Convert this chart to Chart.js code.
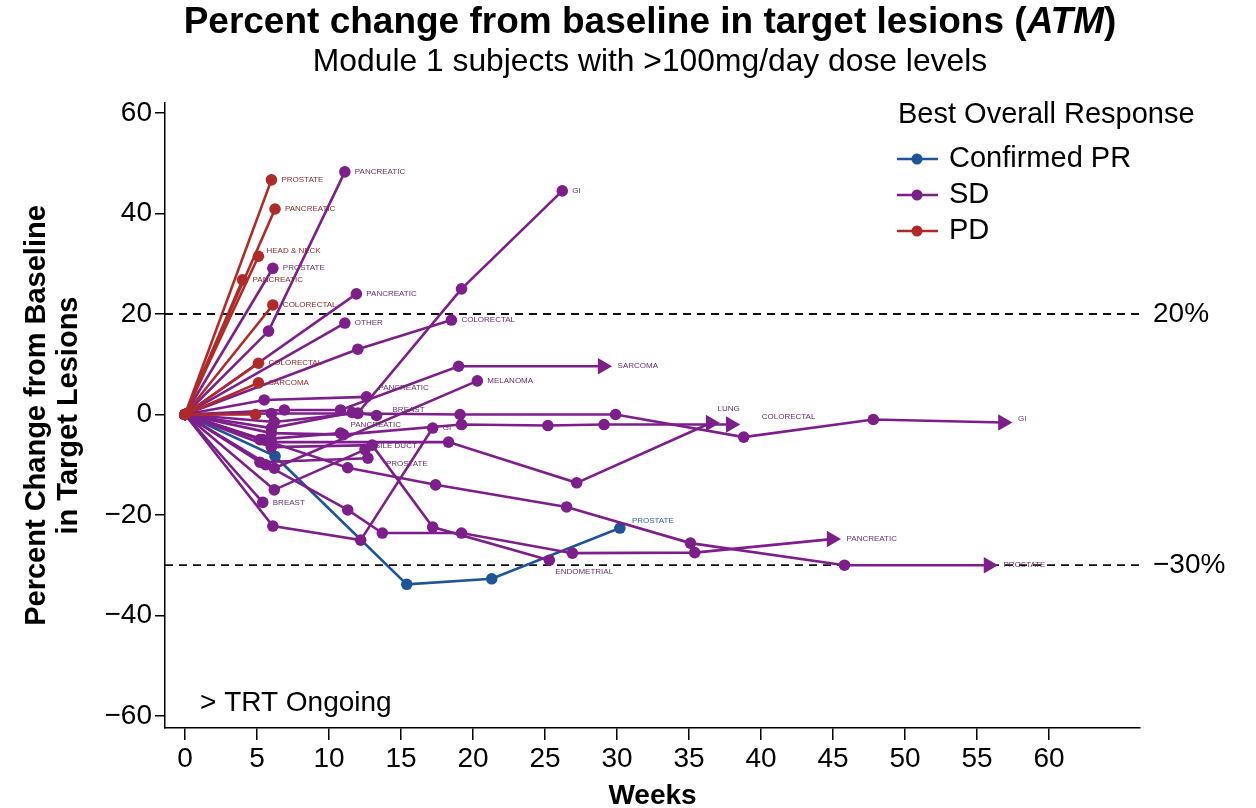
<!DOCTYPE html>
<html>
<head>
<meta charset="utf-8">
<title>Percent change from baseline in target lesions (ATM)</title>
<script src="https://cdn.jsdelivr.net/npm/chart.js@4.4.1/dist/chart.umd.min.js"></script>
<style>
  html, body { margin: 0; padding: 0; background: #fff; }
  #wrap { width: 1256px; height: 808px; }
</style>
</head>
<body>
<div id="wrap"><canvas id="atmChart" width="1256" height="808"></canvas></div>
<script>
// data, one entry per subject
const tumorType = [
  // PD
  'PROSTATE', 'PANCREATIC', 'HEAD & NECK', 'PANCREATIC', 'COLORECTAL', 'COLORECTAL', 'SARCOMA', '',
  // SD
  'PANCREATIC', 'GI', 'PROSTATE', 'PANCREATIC', 'OTHER', 'COLORECTAL', 'SARCOMA', 'MELANOMA',
  'PANCREATIC', 'BREAST', 'LUNG', 'COLORECTAL', 'GI', 'PANCREATIC', 'GI', 'BILE DUCT',
  'PROSTATE', 'BREAST', 'ENDOMETRIAL', 'PANCREATIC', 'PROSTATE',
  // Confirmed PR
  'PROSTATE'
];
const bestResponse = [
  'PD', 'PD', 'PD', 'PD', 'PD', 'PD', 'PD', 'PD',
  'SD', 'SD', 'SD', 'SD', 'SD', 'SD', 'SD', 'SD', 'SD', 'SD', 'SD',
  'SD', 'SD', 'SD', 'SD', 'SD', 'SD', 'SD', 'SD', 'SD', 'SD',
  'PR'
];
const weeks = [
  [0, 6.0], [0, 6.25], [0, 5.1], [0, 4.0], [0, 6.1], [0, 5.1], [0, 5.1], [0, 4.9],
  [0, 5.8, 11.1],
  [0, 6.2, 12.0, 19.2, 26.2],
  [0, 6.1],
  [0, 11.9],
  [0, 11.1],
  [0, 12.0, 18.5],
  [0, 6.9, 10.8, 19.0, 29.0],
  [0, 6.2, 20.3],
  [0, 5.5, 12.6],
  [0, 6.0, 11.6, 13.3],
  [0, 6.0, 18.3, 27.2, 36.5],
  [0, 6.0, 11.0, 19.2, 25.2, 29.1, 37.9],
  [0, 6.0, 12.0, 19.1, 29.9, 38.8, 47.8, 56.8],
  [0, 5.2, 10.8],
  [0, 6.1, 12.2, 17.2],
  [0, 6.2, 12.5],
  [0, 5.2, 12.7],
  [0, 5.4],
  [0, 6.0, 13.0, 17.2, 25.3],
  [0, 5.6, 11.3, 13.7, 19.2, 26.9, 35.4, 44.9],
  [0, 5.4, 11.3, 17.4, 26.5, 35.1, 45.8, 55.8],
  [0, 6.25, 15.4, 21.3, 30.2]
];
const pctChange = [
  [0, 46.7], [0, 40.9], [0, 31.5], [0, 26.8], [0, 21.8], [0, 10.2], [0, 6.3], [0, 0],
  [0, 16.6, 48.3],
  [0, -1.5, 0.3, 25.0, 44.5],
  [0, 29.1],
  [0, 24.0],
  [0, 18.2],
  [0, 13.0, 18.8],
  [0, 0.9, 0.9, 9.6, 9.6],
  [0, -10.7, 6.7],
  [0, 2.9, 3.5],
  [0, -2.7, 0.4, -0.2],
  [0, -5.5, -5.5, -13.6, -1.7],
  [0, -3.7, -4.0, -2.0, -2.2, -2.0, -2.0],
  [0, 0.2, 0.2, 0, 0, -4.5, -1.0, -1.6],
  [0, -5.0, -3.7],
  [0, -22.2, -25.0, -2.7],
  [0, -15.0, -7.0],
  [0, -9.5, -8.7],
  [0, -17.5],
  [0, -6.5, -6.1, -22.4, -29.0],
  [0, -10.0, -19.0, -23.6, -23.6, -27.6, -27.5, -24.8],
  [0, -5.0, -10.6, -14.0, -18.4, -25.6, -30.0, -30.0],
  [0, -8.3, -33.8, -32.7, -22.6]
];
// treatment still ongoing (drawn with an arrow)
const ongoing = [
  false, false, false, false, false, false, false, false,
  false, false, false, false, false, false, true, false, false, false, true,
  true, true, false, false, false, false, false, false, true, true,
  false
];
const xTicks = [0, 5, 10, 15, 20, 25, 30, 35, 40, 45, 50, 55, 60];
const yTicks = [-60, -40, -20, 0, 20, 40, 60];
const refLevels = [20, -30];
const refLabels = ['20%', '\u221230%'];
const legendOrder = ['PR', 'SD', 'PD'];
const legendNames = ['Confirmed PR', 'SD', 'PD'];

const FONT = '"Liberation Sans", Arial, Helvetica, sans-serif';
const lineColor = { PR: '#1f5597', SD: '#7d1f8b', PD: '#b02a2a' };
const textColor = { PR: '#3563a3', SD: '#65306c', PD: '#8c2a2a' };

Chart.defaults.font.family = FONT;
Chart.defaults.color = '#000';

const X_MIN = -1.39, X_MAX = 66.32, Y_MIN = -62.4, Y_MAX = 62.0;

const datasets = tumorType.map((name, i) => {
  const col = lineColor[bestResponse[i]];
  const n = weeks[i].length;
  const isArrow = idx => ongoing[i] && idx === n - 1;
  return {
    label: name,
    data: weeks[i].map((w, j) => ({ x: w, y: pctChange[i][j] })),
    borderColor: col,
    backgroundColor: col,
    borderWidth: 2.6,
    pointBorderWidth: 0,
    pointRadius: ctx => isArrow(ctx.dataIndex) ? 9.5 : 5.8,
    pointStyle: ctx => isArrow(ctx.dataIndex) ? 'triangle' : 'circle',
    pointRotation: ctx => isArrow(ctx.dataIndex) ? 90 : 0,
    tension: 0,
    clip: false
  };
});

refLevels.forEach(v => {
  datasets.push({
    label: 'ref' + v,
    data: [{ x: X_MIN, y: v }, { x: X_MAX, y: v }],
    borderColor: '#111',
    borderWidth: 1.8,
    borderDash: [8, 6],
    pointRadius: 0,
    order: 5
  });
});

// small label next to the last point of each subject
const labelNudge = {
  2: [-2, -5], 16: [2, -9], 17: [6, -6], 18: [-8, -14], 19: [16, -8],
  20: [0, -4], 21: [0, -8], 23: [0, -4], 24: [8, 6], 26: [-4, 12], 29: [2, -7]
};

const decorPlugin = {
  id: 'decor',
  afterDatasetsDraw(chart) {
    const ctx = chart.ctx;
    ctx.save();
    ctx.font = '8px ' + FONT;
    ctx.textBaseline = 'middle';
    ctx.textAlign = 'left';
    tumorType.forEach((name, i) => {
      if (!name) return;
      const pts = chart.getDatasetMeta(i).data;
      const p = pts[pts.length - 1];
      const nd = labelNudge[i] || [0, 0];
      ctx.fillStyle = textColor[bestResponse[i]];
      ctx.fillText(name, p.x + (ongoing[i] ? 15 : 10) + nd[0], p.y + nd[1]);
    });
    ctx.restore();
  },
  afterDraw(chart) {
    const ctx = chart.ctx;
    const ys = chart.scales.y;
    ctx.save();
    ctx.fillStyle = '#000';
    ctx.textBaseline = 'middle';

    // main title, with ATM in italics
    const parts = [
      ['Percent change from baseline in target lesions (', 'bold 37px '],
      ['ATM', 'italic bold 37px '],
      [')', 'bold 37px ']
    ];
    let total = 0;
    parts.forEach(p => { ctx.font = p[1] + FONT; total += ctx.measureText(p[0]).width; });
    let tx = 650 - total / 2;
    ctx.textAlign = 'left';
    parts.forEach(p => {
      ctx.font = p[1] + FONT;
      ctx.fillText(p[0], tx, 23);
      tx += ctx.measureText(p[0]).width;
    });
    ctx.font = '31.8px ' + FONT;
    ctx.textAlign = 'center';
    ctx.fillText('Module 1 subjects with >100mg/day dose levels', 650, 62);

    // reference line labels
    ctx.textAlign = 'left';
    ctx.font = '28px ' + FONT;
    refLevels.forEach((v, k) => {
      ctx.fillText(refLabels[k], 1153, ys.getPixelForValue(v));
    });
    ctx.fillText('> TRT Ongoing', 200, 703);

    // legend
    ctx.font = '29px ' + FONT;
    ctx.fillText('Best Overall Response', 898, 115);
    legendOrder.forEach((r, k) => {
      const y = 159 + k * 36;
      ctx.strokeStyle = lineColor[r];
      ctx.fillStyle = lineColor[r];
      ctx.lineWidth = 2.5;
      ctx.beginPath();
      ctx.moveTo(897, y);
      ctx.lineTo(938, y);
      ctx.stroke();
      ctx.beginPath();
      ctx.arc(917, y, 5.5, 0, Math.PI * 2);
      ctx.fill();
      ctx.fillStyle = '#000';
      ctx.fillText(legendNames[k], 949, y);
    });
    ctx.restore();
  }
};

new Chart(document.getElementById('atmChart').getContext('2d'), {
  type: 'line',
  data: { datasets: datasets },
  options: {
    responsive: false,
    animation: false,
    events: [],
    layout: { padding: { top: 103, right: 116, left: 0, bottom: 0 } },
    plugins: {
      legend: { display: false },
      title: { display: false },
      tooltip: { enabled: false }
    },
    scales: {
      x: {
        type: 'linear',
        min: X_MIN,
        max: X_MAX,
        afterBuildTicks: s => { s.ticks = xTicks.map(v => ({ value: v })); },
        afterFit: s => { s.height = 80; },
        ticks: { font: { size: 28 }, color: '#000', padding: 2, maxRotation: 0, autoSkip: false },
        grid: { drawOnChartArea: false, drawTicks: true, tickLength: 12, color: '#000', lineWidth: 1.5 },
        border: { color: '#000', width: 1.5 },
        title: { display: true, text: 'Weeks', color: '#000', font: { size: 28, weight: 'bold', lineHeight: 1.0 }, padding: { top: 0, bottom: -2 } }
      },
      y: {
        type: 'linear',
        min: Y_MIN,
        max: Y_MAX,
        afterBuildTicks: s => { s.ticks = yTicks.map(v => ({ value: v })); },
        afterFit: s => { s.width = 165; },
        ticks: {
          font: { size: 28 }, color: '#000', padding: 3, autoSkip: false,
          callback: v => String(v).replace('-', '\u2212')
        },
        grid: { drawOnChartArea: false, drawTicks: true, tickLength: 10, color: '#000', lineWidth: 1.5 },
        border: { color: '#000', width: 1.5 },
        title: {
          display: true,
          text: ['Percent Change from Baseline', 'in Target Lesions'],
          color: '#000',
          font: { size: 29, weight: 'bold', lineHeight: 1.1 },
          padding: { top: 21, bottom: 0 }
        }
      }
    }
  },
  plugins: [decorPlugin]
});
</script>
</body>
</html>
